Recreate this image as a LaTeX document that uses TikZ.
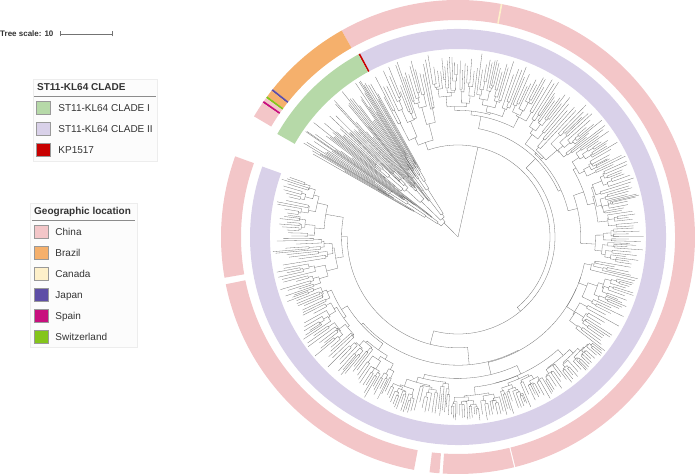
\documentclass[tikz,border=0pt]{standalone}
\usepackage{fontspec}
\setmainfont{Liberation Sans}
\usetikzlibrary{positioning}
\definecolor{chinapink}{HTML}{F3C6C8}
\definecolor{brazilorange}{HTML}{F5B06C}
\definecolor{canadacream}{HTML}{FEF0CA}
\definecolor{japanpurple}{HTML}{5E4EA6}
\definecolor{spainmagenta}{HTML}{C8107E}
\definecolor{swisslime}{HTML}{84C51B}
\definecolor{cladeonegreen}{HTML}{B6D9A8}
\definecolor{cladetwolilac}{HTML}{D9D1E9}
\definecolor{kpred}{HTML}{C80000}
\definecolor{textgray}{HTML}{333333}

% ring piece: colour, start angle, end angle, inner radius, outer radius
\newcommand\ringseg[5]{\fill[#1] (#2:#4) arc[start angle=#2, end angle=#3, radius=#4]
  -- (#3:#5) arc[start angle=#3, end angle=#2, radius=#5] -- cycle;}

% random circular dendrogram: start angle, end angle, node radius, spread
\def\leafstep{1.4}
\def\tipmax{186}
\def\nodemax{178}
\def\tipmin{0.35}
\newcommand\phylo[4]{%
  \begingroup
  \pgfmathsetmacro\spanw{#2-#1}%
  \ifdim\spanw pt<\leafstep pt
    \pgfmathsetmacro\ang{(#1+#2)/2}%
    \pgfmathsetmacro\tip{#3+(\tipmax-#3)*(\tipmin+(1-\tipmin)*rnd)}%
    \draw[branch] (\ang:#3) -- (\ang:\tip);
  \else
    \pgfmathsetmacro\cut{#1+\spanw*(0.2+0.6*rnd)}%
    \pgfmathsetmacro\ma{(#1+\cut)/2}%
    \pgfmathsetmacro\mb{(\cut+#2)/2}%
    \pgfmathsetmacro\ra{#3+(\nodemax-#3)*#4*rnd}%
    \pgfmathsetmacro\rb{#3+(\nodemax-#3)*#4*rnd}%
    \draw[branch] (\ma:\ra) -- (\ma:#3) arc[start angle=\ma, end angle=\mb, radius=#3] -- (\mb:\rb);
    \edef\phylonext{\noexpand\phylo{#1}{\cut}{\ra}{#4}\noexpand\phylo{\cut}{#2}{\rb}{#4}}%
    \phylonext
  \fi
  \endgroup}

\tikzset{
  branch/.style={draw=black!55, line width=0.3pt},
  legbox/.style={draw=black!7, fill=black!1, line width=0.5pt},
  swatch/.style={draw=black!40, line width=0.5pt, minimum width=14pt, minimum height=13pt, inner sep=0pt},
  legtext/.style={font=\fontsize{10}{12}\selectfont, text=textgray, inner sep=0pt, text height=7pt, text depth=0.5pt},
  legtitle/.style={anchor=west, font=\bfseries\fontsize{10}{12}\selectfont, text=textgray, inner sep=0pt}
}

\begin{document}
\begin{tikzpicture}[x=1pt, y=1pt]
  \useasboundingbox (-458,-239) rectangle (238,237);

  % tree scale
  \node[anchor=west, inner sep=0pt, font=\bfseries\fontsize{8}{10}\selectfont, text=textgray] (scaletext) at (-458,203) {Tree scale: 10};
  \coordinate (sbL) at (-398,203);
  \coordinate (sbR) at (-346,203);
  \coordinate (sbM) at (-372,203);
  \draw[black!55, line width=0.6pt] (sbL) -- (sbR);
  \draw[black!55, line width=0.6pt] ([yshift=-2.5pt]sbL) -- ([yshift=2.5pt]sbL);
  \draw[black!55, line width=0.6pt] ([yshift=-2.5pt]sbR) -- ([yshift=2.5pt]sbR);
  \draw[black!55, line width=0.6pt] (sbM) -- ([yshift=-1.5pt]sbM);

  % outer ring: geographic location
  \ringseg{chinapink}{-76.0}{119.4}{217}{237}
  \ringseg{canadacream}{79.2}{79.6}{217}{237}
  \ringseg{brazilorange}{119.4}{141.4}{217}{237}
  \ringseg{japanpurple}{141.4}{141.9}{217}{237}
  \ringseg{brazilorange}{141.9}{143.6}{217}{237}
  \ringseg{swisslime}{143.6}{144.1}{217}{237}
  \ringseg{chinapink}{144.1}{145.0}{217}{237}
  \ringseg{spainmagenta}{145.0}{145.5}{217}{237}
  \ringseg{chinapink}{145.5}{149.4}{217}{237}
  \ringseg{chinapink}{160.1}{189.9}{217}{237}
  \ringseg{chinapink}{191.5}{259.3}{217}{237}
  \ringseg{chinapink}{263.1}{265.5}{217}{237}
  \ringseg{chinapink}{266.3}{283.7}{217}{237}

  % inner ring: clades
  \ringseg{cladetwolilac}{-199.8}{118.1}{188}{208}
  \ringseg{kpred}{118.1}{118.6}{188}{208}
  \ringseg{cladeonegreen}{118.6}{150.3}{188}{208}

  % tree
  \pgfmathsetseed{7}
  \coordinate (root) at (0,0);
  \draw[branch] (root) -- (134.75:20);
  \draw[branch] (root) -- (77.5:92);
  \def\leafstep{0.8}
  \def\tipmin{0.5}
  \phylo{119.0}{150.5}{20}{0.2}
  \def\leafstep{1.4}
  \def\tipmin{0.35}
  \draw[branch] (109.05:100) -- (109.05:92) arc[start angle=109.05, end angle=-49.9, radius=92] -- (-49.9:97);
  \phylo{100}{118.1}{100}{0.3}
  \phylo{-199.8}{100}{97}{0.3}

  % legend: clades
  \draw[legbox] (-425,76) rectangle (-301,158);
  \node[legtitle] (cladetitle) at (-421,150) {ST11-KL64 CLADE};
  \draw[black!45, line width=0.6pt] (-424,141) -- (-302,141);
  \node[swatch, fill=cladeonegreen] (swCladeI) at (-415,129) {};
  \node[swatch, fill=cladetwolilac, below=7.5pt of swCladeI] (swCladeII) {};
  \node[swatch, fill=kpred, below=7.5pt of swCladeII] (swKP) {};
  \node[legtext, right=8pt of swCladeI] (txCladeI) {ST11-KL64 CLADE I};
  \node[legtext, right=8pt of swCladeII] (txCladeII) {ST11-KL64 CLADE II};
  \node[legtext, right=8pt of swKP] (txKP) {KP1517};

  % legend: geographic location
  \draw[legbox] (-428,-110) rectangle (-321,34);
  \node[legtitle] (geotitle) at (-424,25) {Geographic location};
  \draw[black!45, line width=0.6pt] (-426,17) -- (-323,17);
  \node[swatch, fill=chinapink] (swChina) at (-417,5) {};
  \node[swatch, fill=brazilorange, below=7.5pt of swChina] (swBrazil) {};
  \node[swatch, fill=canadacream, below=7.5pt of swBrazil] (swCanada) {};
  \node[swatch, fill=japanpurple, below=7.5pt of swCanada] (swJapan) {};
  \node[swatch, fill=spainmagenta, below=7.5pt of swJapan] (swSpain) {};
  \node[swatch, fill=swisslime, below=7.5pt of swSpain] (swSwiss) {};
  \node[legtext, right=7pt of swChina] (txChina) {China};
  \node[legtext, right=7pt of swBrazil] (txBrazil) {Brazil};
  \node[legtext, right=7pt of swCanada] (txCanada) {Canada};
  \node[legtext, right=7pt of swJapan] (txJapan) {Japan};
  \node[legtext, right=7pt of swSpain] (txSpain) {Spain};
  \node[legtext, right=7pt of swSwiss] (txSwiss) {Switzerland};
\end{tikzpicture}
\end{document}
